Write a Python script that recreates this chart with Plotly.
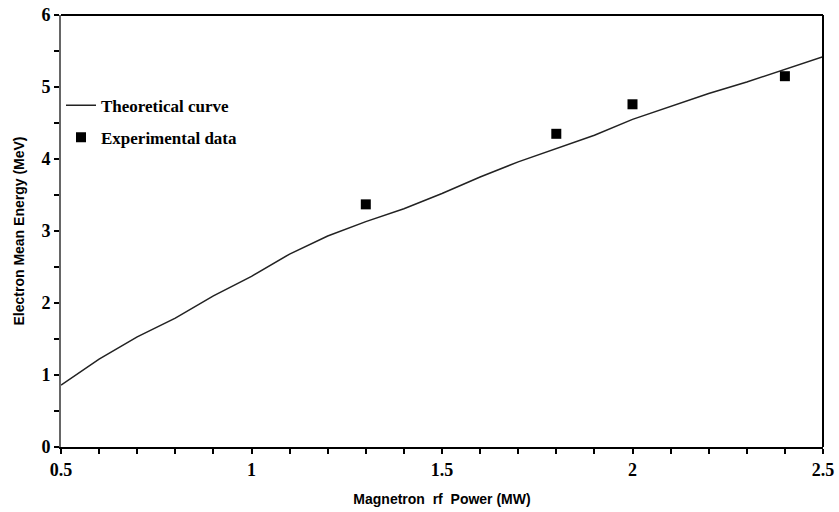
import plotly.graph_objects as go

theory_x = [0.5, 0.6, 0.7, 0.8, 0.9, 1.0, 1.1, 1.2, 1.3, 1.4, 1.5, 1.6, 1.7, 1.8, 1.9, 2.0, 2.1, 2.2, 2.3, 2.4, 2.5]
theory_y = [0.86, 1.22, 1.53, 1.79, 2.10, 2.37, 2.68, 2.93, 3.13, 3.31, 3.52, 3.75, 3.96, 4.15, 4.33, 4.55, 4.73, 4.91, 5.07, 5.25, 5.42]

exp_x = [1.3, 1.8, 2.0, 2.4]
exp_y = [3.37, 4.35, 4.76, 5.15]

x_tickvals = [0.5, 0.6, 0.7, 0.8, 0.9, 1.0, 1.1, 1.2, 1.3, 1.4, 1.5, 1.6, 1.7, 1.8, 1.9, 2.0, 2.1, 2.2, 2.3, 2.4, 2.5]
x_ticktext = ["0.5", "", "", "", "", "1", "", "", "", "", "1.5", "", "", "", "", "2", "", "", "", "", "2.5"]
y_tickvals = [0, 0.5, 1, 1.5, 2, 2.5, 3, 3.5, 4, 4.5, 5, 5.5, 6]
y_ticktext = ["0", "", "1", "", "2", "", "3", "", "4", "", "5", "", "6"]

fig = go.Figure()
fig.add_trace(go.Scatter(x=theory_x, y=theory_y, mode="lines", name="<b>Theoretical curve</b>",
                         legendgroup="a",
                         line=dict(color="#222222", width=1.5)))
fig.add_trace(go.Scatter(x=exp_x, y=exp_y, mode="markers", name="<b>Experimental data</b>",
                         legendgroup="b",
                         marker=dict(symbol="square", size=10, color="black")))

tickfont = dict(family="Liberation Serif", size=18, color="black", weight="bold")
fig.update_layout(
    width=839, height=512,
    margin=dict(l=61, r=16, t=15, b=65),
    plot_bgcolor="white", paper_bgcolor="white",
    showlegend=True,
    legend=dict(x=0.0, y=0.832, xanchor="left", yanchor="top",
                font=dict(family="Liberation Serif", size=17, color="black"),
                bgcolor="rgba(0,0,0,0)", itemwidth=30,
                traceorder="grouped", tracegroupgap=7),
    xaxis=dict(range=[0.5, 2.5], tickmode="array", tickvals=x_tickvals, ticktext=x_ticktext,
               automargin=False,
               showgrid=False, zeroline=False,
               showline=True, linecolor="black", linewidth=2,
               ticks="outside", ticklen=5, tickwidth=2, tickcolor="black",
               tickfont=tickfont,
               title=dict(text="<b>Magnetron  rf  Power (MW)</b>",
                          font=dict(family="Liberation Sans", size=14, color="black"), standoff=16)),
    yaxis=dict(range=[0, 6], tickmode="array", tickvals=y_tickvals, ticktext=y_ticktext,
               automargin=False,
               showgrid=False, zeroline=False,
               showline=True, linecolor="#666666", linewidth=2,
               ticks="outside", ticklen=5, tickwidth=2, tickcolor="black",
               tickfont=tickfont,
               title=dict(text="<b>Electron Mean Energy (MeV)</b>",
                          font=dict(family="Liberation Sans", size=14, color="black"), standoff=14)),
    shapes=[
        dict(type="line", xref="paper", yref="paper", x0=0, x1=1, y0=1, y1=1,
             line=dict(color="black", width=2)),
        dict(type="line", xref="paper", yref="paper", x0=1, x1=1, y0=0, y1=1,
             line=dict(color="black", width=2)),
    ],
)

fig.write_html("out.html")
